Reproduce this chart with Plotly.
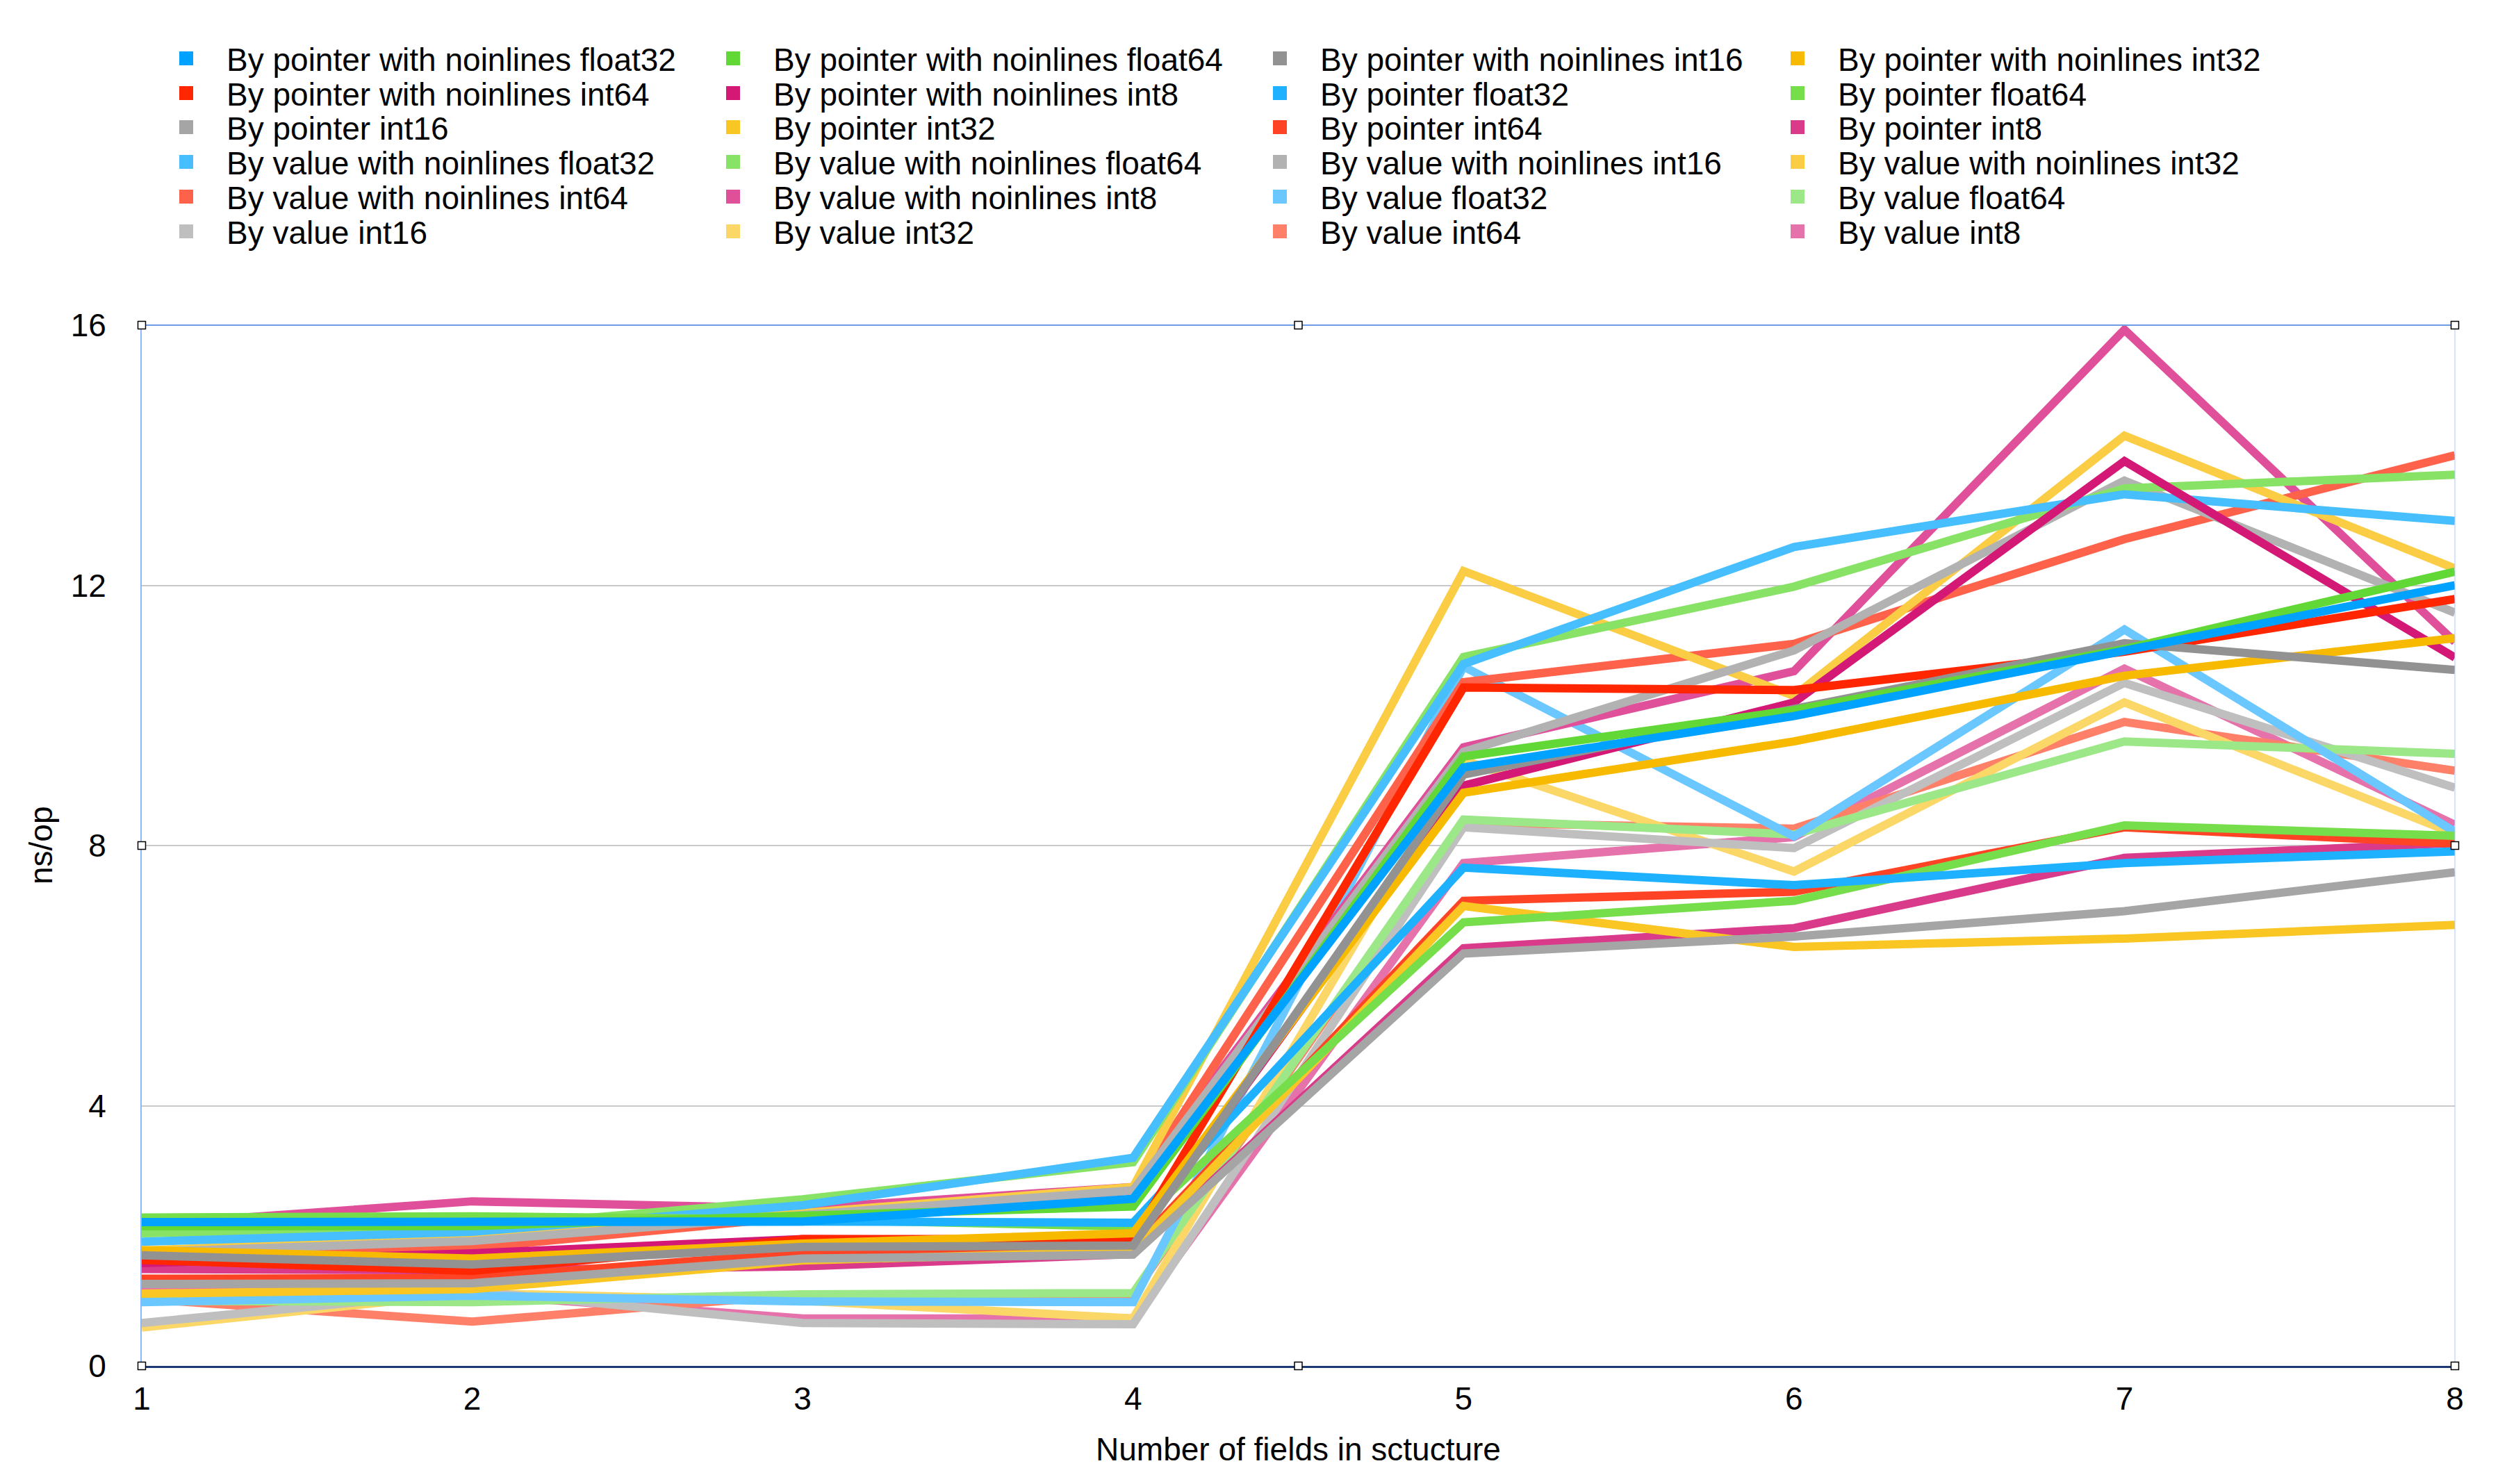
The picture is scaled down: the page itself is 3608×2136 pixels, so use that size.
import plotly.graph_objects as go

W, H = 3608, 2136
FONT = "Liberation Sans, Arial, Helvetica, sans-serif"

fields = [1, 2, 3, 4, 5, 6, 7, 8]
x_tick_labels = ["1", "2", "3", "4", "5", "6", "7", "8"]
y_tick_values = [0, 4, 8, 12, 16]
y_tick_labels = ["0", "4", "8", "12", "16"]
x_title = "Number of fields in sctucture"
y_title = "ns/op"

series_names = [
    "By pointer with noinlines float32", "By pointer with noinlines float64",
    "By pointer with noinlines int16", "By pointer with noinlines int32",
    "By pointer with noinlines int64", "By pointer with noinlines int8",
    "By pointer float32", "By pointer float64", "By pointer int16", "By pointer int32",
    "By pointer int64", "By pointer int8",
    "By value with noinlines float32", "By value with noinlines float64",
    "By value with noinlines int16", "By value with noinlines int32",
    "By value with noinlines int64", "By value with noinlines int8",
    "By value float32", "By value float64", "By value int16", "By value int32",
    "By value int64", "By value int8",
]

series_colors = [
    "#00A2FF", "#61D836", "#929292", "#F8BA00", "#FF2600", "#D41876",
    "#1DB1FF", "#76DD4B", "#A5A5A5", "#F9C623", "#FF4425", "#D93A8A",
    "#47BFFF", "#88E266", "#B2B2B2", "#FACD45", "#FF624A", "#E0509A",
    "#6AC7FF", "#9CE787", "#BFBFBF", "#FBD768", "#FF8069", "#E672AB",
]

ptr_noinl_float32 = [2.21, 2.23, 2.22, 2.57, 9.20, 9.99, 10.98, 12.00]
ptr_noinl_float64 = [2.15, 2.15, 2.31, 2.45, 9.37, 10.08, 11.02, 12.21]
ptr_noinl_int16 = [1.70, 1.56, 1.83, 1.85, 9.09, 10.10, 11.11, 10.70]
ptr_noinl_int32 = [1.78, 1.65, 1.88, 2.04, 8.81, 9.60, 10.61, 11.19]
ptr_noinl_int64 = [1.63, 1.46, 1.95, 1.95, 10.43, 10.39, 10.98, 11.79]
ptr_noinl_int8 = [1.58, 1.73, 1.95, 1.92, 8.92, 10.20, 13.91, 10.89]
ptr_float32 = [2.20, 2.22, 2.22, 2.20, 7.66, 7.39, 7.73, 7.91]
ptr_float64 = [2.28, 2.30, 2.25, 2.14, 6.82, 7.15, 8.31, 8.15]
ptr_int16 = [1.26, 1.27, 1.65, 1.71, 6.34, 6.60, 6.99, 7.59]
ptr_int32 = [1.11, 1.18, 1.62, 1.76, 7.07, 6.44, 6.57, 6.78]
ptr_int64 = [1.34, 1.35, 1.74, 1.80, 7.15, 7.29, 8.28, 8.03]
ptr_int8 = [1.49, 1.47, 1.53, 1.72, 6.42, 6.73, 7.81, 8.04]
val_noinl_float32 = [1.91, 2.06, 2.47, 3.20, 10.79, 12.59, 13.40, 12.99]
val_noinl_float64 = [2.04, 2.12, 2.56, 3.13, 10.90, 11.98, 13.49, 13.70]
val_noinl_int16 = [1.75, 1.92, 2.32, 2.70, 9.44, 11.00, 13.61, 11.58]
val_noinl_int32 = [1.77, 2.01, 2.35, 2.75, 12.22, 10.30, 14.30, 12.26]
val_noinl_int64 = [1.62, 1.81, 2.30, 2.70, 10.51, 11.10, 12.71, 14.00]
val_noinl_int8 = [2.17, 2.53, 2.42, 2.75, 9.51, 10.68, 15.93, 11.13]
val_float32 = [0.98, 1.08, 0.99, 0.98, 10.75, 8.14, 11.32, 8.21]
val_float64 = [1.00, 0.98, 1.10, 1.12, 8.40, 8.17, 9.60, 9.41]
val_int16 = [0.66, 1.15, 0.66, 0.64, 8.28, 7.96, 10.50, 8.89]
val_int32 = [0.59, 1.12, 1.00, 0.73, 9.31, 7.60, 10.20, 8.18]
val_int64 = [1.03, 0.68, 1.10, 1.10, 8.35, 8.26, 9.90, 9.15]
val_int8 = [1.19, 1.10, 0.73, 0.73, 7.73, 8.13, 10.72, 8.32]

series_values = [
    ptr_noinl_float32, ptr_noinl_float64, ptr_noinl_int16, ptr_noinl_int32,
    ptr_noinl_int64, ptr_noinl_int8, ptr_float32, ptr_float64, ptr_int16,
    ptr_int32, ptr_int64, ptr_int8, val_noinl_float32, val_noinl_float64,
    val_noinl_int16, val_noinl_int32, val_noinl_int64, val_noinl_int8,
    val_float32, val_float64, val_int16, val_int32, val_int64, val_int8,
]

# plot area in pixels
L, R, T, B = 196, 3525, 460, 1958

fig = go.Figure()

# lines: earlier series are drawn on top
for i in reversed(range(len(series_names))):
    fig.add_trace(go.Scatter(
        x=fields, y=series_values[i], mode="lines", name=series_names[i],
        line=dict(color=series_colors[i], width=12), showlegend=False,
        hoverinfo="x+y+name",
    ))

# legend entries (square swatches), one small legend per entry for exact grid placement
col_text_x = [329, 1116, 1903, 2648]
row_center_y = [76, 126, 175, 225, 275, 325]
ITEMW = 106
legend_layouts = {}
for i, name in enumerate(series_names):
    key = "legend" if i == 0 else f"legend{i + 1}"
    fig.add_trace(go.Scatter(
        x=[None], y=[None], mode="markers", name=name,
        marker=dict(color=series_colors[i], symbol="square", size=16,
                    line=dict(width=4, color=series_colors[i])),
        legend=key, showlegend=True,
    ))
    r, c = divmod(i, 4)
    legend_layouts[key] = dict(
        xref="container", yref="container",
        x=(col_text_x[c] - ITEMW - 21) / W, xanchor="left",
        y=1 - row_center_y[r] / H, yanchor="middle",
        bgcolor="rgba(0,0,0,0)", borderwidth=0,
        font=dict(family=FONT, size=46, color="#000000"),
        itemwidth=ITEMW, orientation="v",
    )

# selection handles and frame lines
shapes = []
shapes.append(dict(type="line", xref="paper", yref="paper", x0=0, x1=1, y0=1, y1=1,
                   line=dict(color="#6E9BE6", width=2), layer="above"))
shapes.append(dict(type="line", xref="paper", yref="paper", x0=1, x1=1, y0=0, y1=1,
                   line=dict(color="#A9C8FF", width=1), layer="above"))
for hx, hy in [(0, 1), (0.5, 1), (1, 1), (0, 0.5), (1, 0.5), (0, 0), (0.5, 0), (1, 0)]:
    shapes.append(dict(type="rect", xref="paper", yref="paper",
                       xsizemode="pixel", ysizemode="pixel",
                       xanchor=hx, yanchor=hy, x0=-5.5, x1=5.5, y0=-5.5, y1=5.5,
                       fillcolor="#FFFFFF", line=dict(color="#000000", width=1.5),
                       layer="above"))

# y-axis title as rotated text at the left edge
annotations = [dict(
    text=y_title, xref="paper", yref="paper",
    x=(51 - L) / (R - L), y=0.5, xanchor="center", yanchor="middle",
    textangle=-90, showarrow=False,
    font=dict(family=FONT, size=46, color="#000000"),
)]

fig.update_layout(
    width=W, height=H,
    paper_bgcolor="#FFFFFF", plot_bgcolor="#FFFFFF",
    margin=dict(l=L, r=W - R, t=T, b=H - B, autoexpand=False),
    font=dict(family=FONT, size=46, color="#000000"),
    shapes=shapes, annotations=annotations,
    **legend_layouts,
)

fig.update_xaxes(
    range=[1, 8], tickvals=fields, ticktext=x_tick_labels,
    showgrid=False, zeroline=False,
    showline=True, linecolor="#1B3A75", linewidth=3,
    ticks="outside", ticklen=5, tickcolor="rgba(0,0,0,0)",
    tickfont=dict(family=FONT, size=46, color="#000000"),
    title=dict(text=x_title, standoff=32,
               font=dict(family=FONT, size=46, color="#000000")),
)
fig.update_yaxes(
    range=[0, 16], tickvals=y_tick_values, ticktext=y_tick_labels,
    showgrid=True, gridcolor="#C9C9C9", gridwidth=1.5, zeroline=False,
    showline=True, linecolor="#8DB6FF", linewidth=2,
    ticks="outside", ticklen=40, tickcolor="rgba(0,0,0,0)",
    tickfont=dict(family=FONT, size=46, color="#000000"),
)

fig.write_html("out.html")
